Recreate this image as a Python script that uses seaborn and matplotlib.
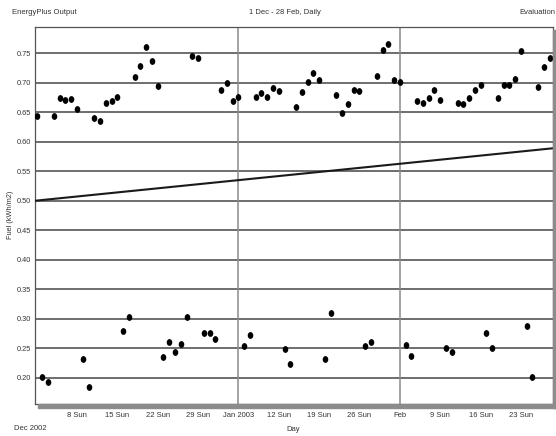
import numpy as np
import pandas as pd
import matplotlib
matplotlib.use("Agg")
import matplotlib.pyplot as plt
from matplotlib.path import Path
from matplotlib.patches import Rectangle
import seaborn as sns

# ---- data (day 0 = 1 Dec 2002) ----
days = list(range(90))
fuel = [0.643, 0.201, 0.192, 0.643, 0.674, 0.670, 0.673, 0.656, 0.232, 0.184,
        0.641, 0.636, 0.665, 0.669, 0.676, 0.280, 0.303, 0.709, 0.729, 0.760,
        0.737, 0.695, 0.235, 0.261, 0.244, 0.257, 0.303, 0.745, 0.742, 0.275,
        0.275, 0.266, 0.688, 0.699, 0.669, 0.676, 0.254, 0.273, 0.676, 0.682,
        0.676, 0.691, 0.686, 0.248, 0.224, 0.659, 0.684, 0.701, 0.716, 0.705,
        0.232, 0.310, 0.679, 0.649, 0.664, 0.687, 0.686, 0.253, 0.261, 0.712,
        0.756, 0.765, 0.704, 0.701, 0.256, 0.237, 0.669, 0.665, 0.675, 0.688,
        0.670, 0.250, 0.243, 0.666, 0.664, 0.675, 0.688, 0.697, 0.276, 0.251,
        0.675, 0.696, 0.697, 0.707, 0.754, 0.288, 0.202, 0.693, 0.727, 0.742]
trend_days = [-0.28, 89.56]
trend_values = [0.500, 0.589]
tick_days = [7, 14, 21, 28, 35, 42, 49, 56, 63, 70, 77, 84]
tick_labels = ["8 Sun", "15 Sun", "22 Sun", "29 Sun", "Jan 2003", "12 Sun",
               "19 Sun", "26 Sun", "Feb", "9 Sun", "16 Sun", "23 Sun"]
month_line_days = [35, 63]
y_ticks = [0.20, 0.25, 0.30, 0.35, 0.40, 0.45, 0.50, 0.55, 0.60, 0.65, 0.70, 0.75]

df = pd.DataFrame({"day": days, "fuel": fuel})
trend = pd.DataFrame({"day": trend_days, "fuel": trend_values})

sns.set_style("white")
plt.rcParams["font.family"] = ["Liberation Sans Narrow", "Liberation Sans", "DejaVu Sans"]

W, H = 556, 436
fig = plt.figure(figsize=(W / 100, H / 100), dpi=100)
ax = fig.add_axes([35 / W, 1 - 404 / H, (553 - 35) / W, (404 - 27) / H])

# gridlines
for yv in y_ticks:
    ax.axhline(yv, color="#6e6e6e", lw=1.4, zorder=1)
for d in month_line_days:
    ax.axvline(d, color="#8a8a8a", lw=1.1, zorder=1)

# elliptical marker
t = np.linspace(0, 2 * np.pi, 40)
ell = Path(np.column_stack([0.82 * np.cos(t), np.sin(t)]), closed=True)

sns.lineplot(data=trend, x="day", y="fuel", color="#1a1a1a", lw=1.5, ax=ax, zorder=3)
sns.scatterplot(data=df, x="day", y="fuel", marker=ell, s=24, color="black",
                edgecolor="black", linewidth=0, ax=ax, zorder=4)

ax.set_xlim(-0.28, 89.56)
ax.set_ylim(0.1554, 0.7946)
ax.set_xticks(tick_days)
ax.set_xticklabels(tick_labels)
ax.set_yticks(y_ticks)
ax.set_yticklabels([f"{v:.2f}" for v in y_ticks])
ax.tick_params(axis="x", direction="in", length=6, width=0.8, color="#555555",
               labelsize=5.5, pad=6, labelcolor="#333333")
ax.tick_params(axis="y", direction="out", length=2, width=0.8, color="#6e6e6e",
               labelsize=5.3, pad=1, labelcolor="#333333")
ax.set_xlabel("")
ax.set_ylabel("")

for s in ["left", "top", "right", "bottom"]:
    ax.spines[s].set_visible(True)
    ax.spines[s].set_color("#555555")
    ax.spines[s].set_linewidth(0.9)

# shadow bands (bottom and right)
fig.patches.append(Rectangle((38 / W, 1 - 408 / H), (556 - 38) / W, 4 / H,
                             transform=fig.transFigure, color="#8c8c8c", zorder=0))
fig.patches.append(Rectangle((553 / W, 1 - 408 / H), 3 / W, (408 - 30) / H,
                             transform=fig.transFigure, color="#8c8c8c", zorder=0))

fig.text(11 / W, 1 - 215 / H, "Fuel (kWh/m2)", rotation=90, ha="center", va="center",
         fontsize=5.3, color="#333333")
fig.text(293 / W, 1 - 429 / H, "Day", ha="center", va="center", fontsize=5.5, color="#333333")
fig.text(30 / W, 1 - 428 / H, "Dec 2002", ha="center", va="center", fontsize=5.5, color="#333333")
fig.text(12 / W, 1 - 13 / H, "EnergyPlus Output", ha="left", va="center", fontsize=5.5, color="#333333")
fig.text(285 / W, 1 - 13 / H, "1 Dec - 28 Feb, Daily", ha="center", va="center", fontsize=5.5, color="#333333")
fig.text(519 / W, 1 - 13 / H, "Evaluation", ha="left", va="center", fontsize=5.5, color="#333333")

fig.savefig("out.png", dpi=100)
